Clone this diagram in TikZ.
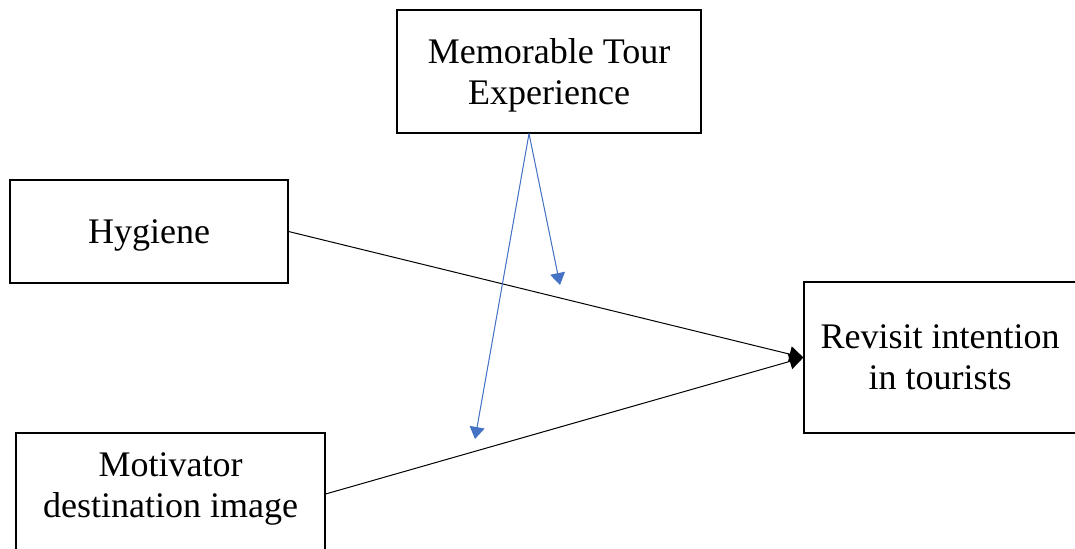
\documentclass[tikz,border=0pt]{standalone}
\usepackage{fontspec}
\setmainfont{Liberation Serif}
\usetikzlibrary{arrows.meta}

\begin{document}
\begin{tikzpicture}[x=0.5pt,y=-0.5pt,>={Triangle[length=7pt,width=8pt]},
    box/.style={draw,line width=0.6pt,align=center,inner sep=0pt,text depth=0pt,
      font=\fontsize{18}{20.5}\selectfont},
    mod/.style={draw={rgb,255:red,68;green,114;blue,196},line width=0.5pt,
      -{Triangle[length=6pt,width=7.5pt]},fill={rgb,255:red,68;green,114;blue,196}}]
    \useasboundingbox (0,0) rectangle (1075,548);
    \node[box,minimum width=152pt,minimum height=61.5pt] (mte) at (549,71.5) {Memorable Tour\\Experience};
    \node[box,minimum width=139pt,minimum height=51.5pt] (hyg) at (149,231.5) {Hygiene};
    \node[box,minimum width=136pt,minimum height=75.5pt,text depth=-1.5pt] (rev) at (940,357.5) {Revisit intention\\in tourists};
    \node[box,minimum width=154.5pt,minimum height=61pt,text depth=9pt] (mdi) at (170.5,494) {Motivator\\destination image};
    %
    \draw[->,line width=0.5pt] (hyg.east) -- (rev.west);
    \draw[->,line width=0.5pt] (mdi.east) -- (rev.west);
    %
    \coordinate (m0) at ([xshift=-10pt]mte.south);
    \coordinate (m1) at (560,285);
    \coordinate (m2) at (475,439);
    \draw[mod] (m0) -- (m1);
    \draw[mod] (m0) -- (m2);
\end{tikzpicture}
\end{document}
